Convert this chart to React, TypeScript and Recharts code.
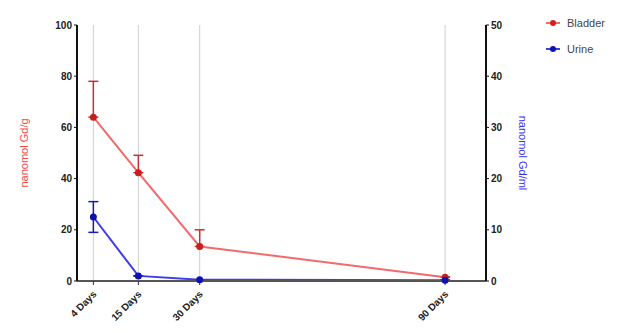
import React from 'react';
import {
  ComposedChart,
  Line,
  XAxis,
  YAxis,
  CartesianGrid,
  ErrorBar,
} from 'recharts';

const days = [4, 15, 30, 90];
const dayLabels = ['4 Days', '15 Days', '30 Days', '90 Days'];
const bladder = [64, 42.3, 13.5, 1.5];
const bladderErr = [[0, 14], [0, 6.8], [0, 6.5], [0, 0]];
const urine = [12.5, 1, 0.25, 0.15];
const urineErr = [[3, 3], [0, 0], [0, 0], [0, 0]];
const leftTicks = [0, 20, 40, 60, 80, 100];
const rightTicks = [0, 10, 20, 30, 40, 50];

const data = days.map((d, i) => ({
  day: d,
  bladder: bladder[i],
  bladderErr: bladderErr[i],
  urine: urine[i],
  urineErr: urineErr[i],
}));

const RED = '#f26a6a';
const BLUE = '#3c3cf0';
const font = '"Liberation Sans", Arial, sans-serif';

function DayTick(props: any) {
  const { x, y, payload } = props;
  const idx = days.indexOf(payload.value);
  const tx = x + 1;
  const ty = y + 5;
  return (
    <text
      x={tx}
      y={ty}
      transform={`rotate(-45 ${tx} ${ty})`}
      textAnchor="end"
      fontSize={10}
      fontWeight="bold"
      fontFamily={font}
      fill="#222"
      dy={4}
    >
      {dayLabels[idx]}
    </text>
  );
}

function LegendBox() {
  const items = [
    { name: 'Bladder', color: RED, dot: '#d02020' },
    { name: 'Urine', color: BLUE, dot: '#1010b0' },
  ];
  return (
    <div
      style={{
        position: 'absolute',
        left: 546,
        top: 10,
        fontFamily: font,
        fontSize: 11,
        color: '#444',
      }}
    >
      {items.map((it) => (
        <div key={it.name} style={{ display: 'flex', alignItems: 'center', height: 26 }}>
          <svg width={14} height={8} style={{ marginRight: 7 }}>
            <line x1={0} y1={4} x2={14} y2={4} stroke={it.color} strokeWidth={2} />
            <circle cx={7} cy={4} r={3} fill={it.dot} />
          </svg>
          {it.name}
        </div>
      ))}
    </div>
  );
}

export default function App() {
  return (
    <div style={{ position: 'absolute', left: 0, top: 0, width: 643, height: 333, background: '#fff' }}>
      <ComposedChart
        width={643}
        height={333}
        data={data}
        margin={{ top: 25, right: 117, bottom: 12, left: 27 }}
      >
        <CartesianGrid horizontal={false} stroke="#cfcfcf" />
        <XAxis
          dataKey="day"
          type="number"
          domain={[0, 100]}
          ticks={days}
          interval={0}
          height={40}
          tick={<DayTick />}
          tickSize={4}
          axisLine={{ stroke: '#555', strokeWidth: 2 }}
          tickLine={{ stroke: '#333' }}
        />
        <YAxis
          yAxisId="left"
          domain={[0, 100]}
          ticks={leftTicks}
          width={50}
          tickSize={3}
          axisLine={{ stroke: '#111', strokeWidth: 2 }}
          tickLine={{ stroke: '#111' }}
          tick={{ fontSize: 10, fontWeight: 'bold', fill: '#222', fontFamily: font }}
          label={{
            value: 'nanomol Gd/g',
            angle: -90,
            position: 'insideLeft',
            offset: -3,
            style: { fill: '#f04848', fontSize: 11, fontFamily: font, textAnchor: 'middle' },
          }}
        />
        <YAxis
          yAxisId="right"
          orientation="right"
          domain={[0, 50]}
          ticks={rightTicks}
          width={40}
          tickSize={3}
          axisLine={{ stroke: '#111', strokeWidth: 2 }}
          tickLine={{ stroke: '#111' }}
          tick={{ fontSize: 10, fontWeight: 'bold', fill: '#222', fontFamily: font }}
          label={{
            value: 'nanomol Gd/ml',
            angle: 90,
            position: 'insideRight',
            offset: 3,
            style: { fill: '#3434e8', fontSize: 11, fontFamily: font, textAnchor: 'middle' },
          }}
        />
        <Line
          yAxisId="left"
          dataKey="bladder"
          name="Bladder"
          stroke={RED}
          strokeWidth={2}
          dot={{ r: 2.5, fill: '#c81e1e', stroke: '#c81e1e' }}
          isAnimationActive={false}
        >
          <ErrorBar dataKey="bladderErr" direction="y" width={5} stroke="#c83030" strokeWidth={1.5} />
        </Line>
        <Line
          yAxisId="right"
          dataKey="urine"
          name="Urine"
          stroke={BLUE}
          strokeWidth={2}
          dot={{ r: 2.5, fill: '#1010b0', stroke: '#1010b0' }}
          isAnimationActive={false}
        >
          <ErrorBar dataKey="urineErr" direction="y" width={5} stroke="#1a1ab0" strokeWidth={1.5} />
        </Line>
      </ComposedChart>
      <LegendBox />
    </div>
  );
}
